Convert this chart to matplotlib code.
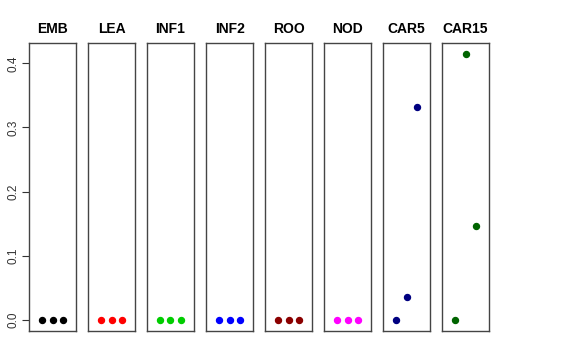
import matplotlib.pyplot as plt

plt.rcParams['font.family'] = ['Liberation Sans', 'DejaVu Sans']

# panel names, colours and values (three samples per tissue)
tissues = ["EMB", "LEA", "INF1", "INF2", "ROO", "NOD", "CAR5", "CAR15"]
colors = ["black", "red", "#00CD00", "blue", "#8B0000", "magenta", "#000080", "#006400"]
values = [
    [0, 0, 0],
    [0, 0, 0],
    [0, 0, 0],
    [0, 0, 0],
    [0, 0, 0],
    [0, 0, 0],
    [0, 0.036, 0.332],
    [0, 0.415, 0.146],
]
positions = [1, 2, 3]
y_ticks = [0.0, 0.1, 0.2, 0.3, 0.4]

W, H = 576, 360
fig = plt.figure(figsize=(W / 100, H / 100), dpi=100)

# panel geometry in pixels
left0 = 29
step = 59
width = 47
top = 43
bottom = 331

for i, name in enumerate(tissues):
    ax = fig.add_axes([(left0 + i * step) / W, (H - bottom) / H,
                       width / W, (bottom - top) / H])
    ax.plot(positions, values[i], 'o', color=colors[i], markersize=4.3)
    ax.set_xlim(-0.22, 4.22)
    ax.set_ylim(-0.017, 0.4316)
    ax.set_xticks([])
    for s in ax.spines.values():
        s.set_color('#444444')
        s.set_linewidth(1.0)
    ax.set_title(name, fontsize=10, fontweight='bold', pad=7)
    if i == 0:
        ax.set_yticks(y_ticks)
        ax.set_yticklabels(["%.1f" % t for t in y_ticks], rotation=90,
                           va='center', fontsize=8.5, color='#333333')
        ax.tick_params(axis='y', length=5, width=0.8, color='#333333', pad=2)
    else:
        ax.set_yticks([])

fig.savefig("out.png", dpi=100)
